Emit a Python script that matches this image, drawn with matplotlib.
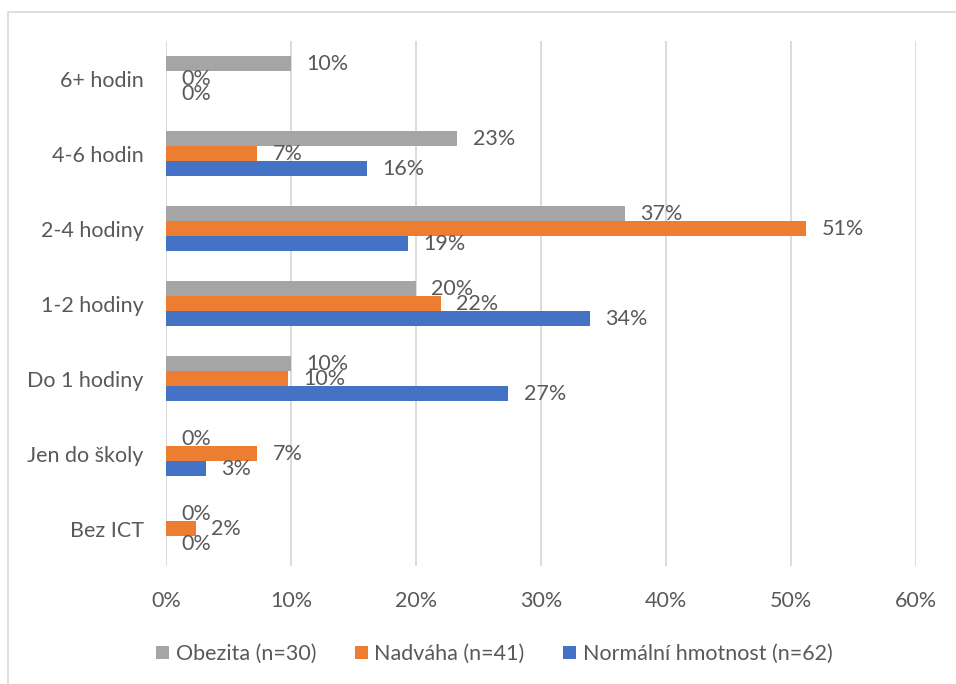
import numpy as np
from matplotlib import pyplot as plt
from matplotlib.patches import Rectangle

categories = ["Bez ICT", "Jen do školy", "Do 1 hodiny", "1-2 hodiny",
              "2-4 hodiny", "4-6 hodin", "6+ hodin"]
obezita = [0.0, 0.0, 10.0, 20.0, 36.7, 23.3, 10.0]
nadvaha = [2.4, 7.3, 9.8, 22.0, 51.2, 7.3, 0.0]
normalni = [0.0, 3.2, 27.4, 33.9, 19.4, 16.1, 0.0]
series_names = ["Obezita (n=30)", "Nadváha (n=41)", "Normální hmotnost (n=62)"]
x_ticks = [0, 10, 20, 30, 40, 50, 60]

TEXT = "#595959"
COLORS = ["#A5A5A5", "#ED7D31", "#4472C4"]
FS = 15.5


def main():
    plt.rcParams['font.family'] = ['Lato', 'DejaVu Sans']
    fig = plt.figure(figsize=(9.56, 6.84), dpi=100)
    ax = fig.add_axes([0.1736, 0.1725, 0.9582 - 0.1736, 0.940 - 0.1725])

    # chart border (Excel chart area)
    fig.patches.append(Rectangle((8 / 956, -0.05), 1.1, 1 - 12 / 684 + 0.05,
                                 transform=fig.transFigure, fill=False,
                                 edgecolor="#D9D9D9", linewidth=1.2))

    y = np.arange(len(categories))
    h = 0.2
    offsets = [h, 0, -h]
    handles = []
    for vals, off, col, name in zip([obezita, nadvaha, normalni], offsets, COLORS, series_names):
        bars = ax.barh(y + off, vals, height=h, color=col, label=name, zorder=3)
        handles.append(bars)
        for yy, v in zip(y + off, vals):
            ax.annotate(f"{v:.0f}%", (v, yy), xytext=(11, 0), textcoords="offset points",
                        va="center", ha="left", fontsize=FS, color=TEXT, zorder=4)

    ax.set_xlim(0, 60)
    ax.set_ylim(-0.5, len(categories) - 0.5)
    ax.set_xticks(x_ticks)
    ax.set_xticklabels([f"{t}%" for t in x_ticks])
    ax.set_yticks(y)
    ax.set_yticklabels(categories)
    ax.tick_params(axis="both", length=0, labelsize=FS, labelcolor=TEXT)
    ax.tick_params(axis="y", pad=16)
    ax.tick_params(axis="x", pad=18)
    ax.grid(axis="x", color="#D9D9D9", linewidth=1.3, zorder=0)
    for s in ax.spines.values():
        s.set_visible(False)

    fig.legend(handles=handles, loc="center", bbox_to_anchor=(0.517, 1 - 654 / 684),
               ncol=3, frameon=False, fontsize=FS, labelcolor=TEXT,
               handlelength=0.6, handleheight=0.6, handletextpad=0.3, columnspacing=1.8)

    plt.savefig("out.png", dpi=100)


if __name__ == "__main__":
    main()
